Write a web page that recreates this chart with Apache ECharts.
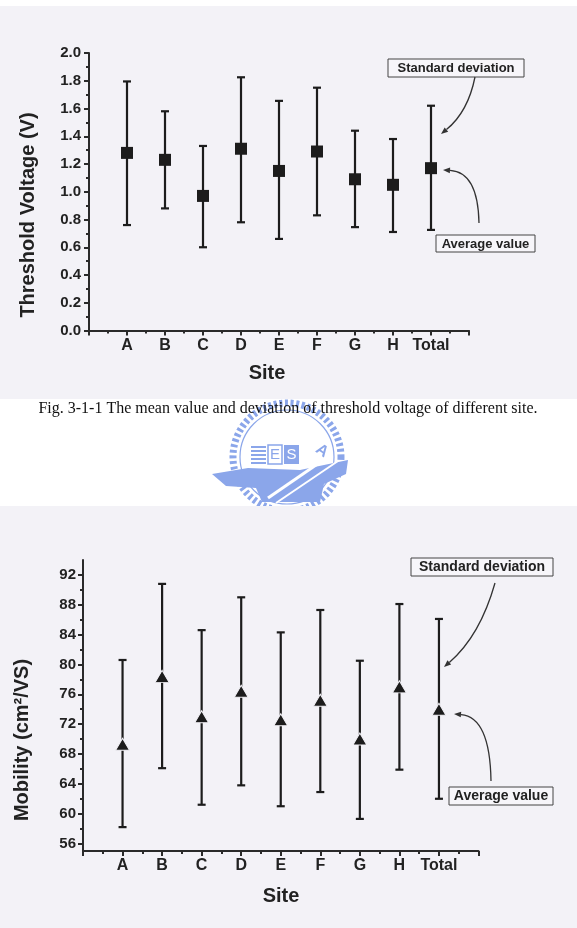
<!DOCTYPE html>
<html>
<head>
<meta charset="utf-8">
<script src="https://cdn.jsdelivr.net/npm/echarts@6/dist/echarts.min.js"></script>
<style>
html, body { margin: 0; padding: 0; background: #fff; }
#main { width: 577px; height: 928px; }
</style>
</head>
<body>
<div id="main"></div>
<script>
// categories
var sites = ['A', 'B', 'C', 'D', 'E', 'F', 'G', 'H', 'Total'];

// threshold voltage (V): mean, lower and upper end of the deviation bar
var vthMean = [1.28, 1.23, 0.97, 1.31, 1.15, 1.29, 1.09, 1.05, 1.17];
var vthLow  = [0.76, 0.88, 0.60, 0.78, 0.66, 0.83, 0.745, 0.71, 0.725];
var vthHigh = [1.795, 1.58, 1.33, 1.825, 1.655, 1.75, 1.44, 1.38, 1.62];

// mobility (cm2/VS)
var mobMean = [69.3, 78.4, 73.0, 76.4, 72.6, 75.2, 70.0, 77.0, 74.0];
var mobLow  = [58.2, 66.1, 61.2, 63.8, 61.0, 62.9, 59.3, 65.9, 62.0];
var mobHigh = [80.6, 90.8, 84.6, 89.0, 84.3, 87.3, 80.5, 88.1, 86.1];

// tick labels
var mobTicks = [56, 60, 64, 68, 72, 76, 80, 84, 88, 92];
var mobMinorTicks = [58, 62, 66, 70, 74, 78, 82, 86, 90];

var bg = '#f3f2f7';
var ink = '#1c1c1c';
var fam = '"Liberation Sans", Arial, sans-serif';

function errorBars(params, api) {
    var x = api.value(0);
    var top = api.coord([x, api.value(2)]);
    var bot = api.coord([x, api.value(1)]);
    var w = 4;
    var st = { stroke: ink, lineWidth: 2.2 };
    return {
        type: 'group',
        children: [
            { type: 'line', shape: { x1: top[0], y1: top[1], x2: bot[0], y2: bot[1] }, style: st },
            { type: 'line', shape: { x1: top[0] - w, y1: top[1], x2: top[0] + w, y2: top[1] }, style: st },
            { type: 'line', shape: { x1: bot[0] - w, y1: bot[1], x2: bot[0] + w, y2: bot[1] }, style: st }
        ]
    };
}

function xAxisOf(grid) {
    return {
        type: 'value', gridIndex: grid, min: 0, max: 10, interval: 1,
        axisLine: { lineStyle: { color: '#2a2a2a', width: 2 } },
        axisTick: { length: 5, lineStyle: { color: '#2a2a2a', width: 2 } },
        minorTick: { show: true, splitNumber: 2, length: 3, lineStyle: { color: '#2a2a2a', width: 2 } },
        axisLabel: {
            margin: 7, fontSize: 16, fontWeight: 'bold', fontFamily: fam, color: '#222',
            formatter: function (v) { return sites[v - 1] || ''; }
        },
        splitLine: { show: false }
    };
}

// annotation helpers (boxes + curved arrows)
function box(x, y, w, h, txt, fs) {
    return [
        { type: 'rect', z: 100, shape: { x: x, y: y, width: w, height: h },
          style: { fill: '#f7f6fa', stroke: '#444', lineWidth: 1 } },
        { type: 'text', z: 101, x: x + w / 2, y: y + h / 2 + 0.5,
          style: { text: txt, align: 'center', verticalAlign: 'middle',
                   font: 'bold ' + fs + 'px ' + fam, fill: '#222' } }
    ];
}
function arrow(x1, y1, cx, cy, x2, y2) {
    var a = Math.atan2(y2 - cy, x2 - cx);
    var L = 7, W = 2.8;
    var bx = x2 - L * Math.cos(a), by = y2 - L * Math.sin(a);
    var px = -Math.sin(a) * W, py = Math.cos(a) * W;
    return [
        { type: 'bezierCurve', z: 100,
          shape: { x1: x1, y1: y1, x2: bx, y2: by, cpx1: cx, cpy1: cy },
          style: { stroke: '#333', lineWidth: 1.3, fill: 'none' } },
        { type: 'polygon', z: 100,
          shape: { points: [[x2, y2], [bx + px, by + py], [bx - px, by - py]] },
          style: { fill: '#333' } }
    ];
}

// faint watermark logo between the two figures
var lc = [287, 457];
var logoCol = '#8ba6ea';
var logo = [
    { type: 'circle', z: -9, shape: { cx: lc[0], cy: lc[1], r: 54 },
      style: { fill: 'none', stroke: logoCol, lineWidth: 7, lineDash: [3, 2.6] } },
    { type: 'circle', z: -9, shape: { cx: lc[0], cy: lc[1], r: 47 },
      style: { fill: 'none', stroke: logoCol, lineWidth: 1.2 } },
    { type: 'polygon', z: -9,
      shape: { points: [[212, 474], [248, 468], [300, 470], [348, 460], [346, 474], [324, 484], [320, 502], [262, 502], [256, 488], [226, 486]] },
      style: { fill: logoCol } },
    { type: 'rect', z: -9, shape: { x: 251, y: 446, width: 15, height: 2 }, style: { fill: logoCol } },
    { type: 'rect', z: -9, shape: { x: 251, y: 450, width: 15, height: 2 }, style: { fill: logoCol } },
    { type: 'rect', z: -9, shape: { x: 251, y: 454, width: 15, height: 2 }, style: { fill: logoCol } },
    { type: 'rect', z: -9, shape: { x: 251, y: 458, width: 15, height: 2 }, style: { fill: logoCol } },
    { type: 'rect', z: -9, shape: { x: 251, y: 462, width: 15, height: 2 }, style: { fill: logoCol } },
    { type: 'rect', z: -9, shape: { x: 268, y: 445, width: 14, height: 19 },
      style: { fill: 'none', stroke: logoCol, lineWidth: 1.5 } },
    { type: 'text', z: -9, x: 275, y: 455,
      style: { text: 'E', align: 'center', verticalAlign: 'middle', font: '15px ' + fam, fill: logoCol } },
    { type: 'rect', z: -9, shape: { x: 284, y: 445, width: 15, height: 19 }, style: { fill: logoCol } },
    { type: 'text', z: -9, x: 291.5, y: 455,
      style: { text: 'S', align: 'center', verticalAlign: 'middle', font: '15px ' + fam, fill: '#fff' } },
    { type: 'text', z: -9, x: 322, y: 451, rotation: -0.6,
      style: { text: 'A', align: 'center', verticalAlign: 'middle', font: 'bold 16px ' + fam, fill: logoCol } },
    { type: 'line', z: -8, shape: { x1: 268, y1: 498, x2: 332, y2: 454 },
      style: { stroke: '#ffffff', lineWidth: 3 } },
    { type: 'line', z: -8, shape: { x1: 276, y1: 503, x2: 338, y2: 461 },
      style: { stroke: '#ffffff', lineWidth: 2 } }
];

var graphics = [
    { type: 'rect', z: -10, shape: { x: 0, y: 6, width: 577, height: 393 }, style: { fill: bg } },
    { type: 'rect', z: -7, shape: { x: 0, y: 506, width: 577, height: 422 }, style: { fill: bg } },
    { type: 'text', z: 10, x: 28, y: 215, rotation: Math.PI / 2,
      style: { text: 'Threshold Voltage (V)', align: 'center', verticalAlign: 'middle',
               font: 'bold 20px ' + fam, fill: '#222' } },
    { type: 'text', z: 10, x: 267, y: 373,
      style: { text: 'Site', align: 'center', verticalAlign: 'middle',
               font: 'bold 20px ' + fam, fill: '#222' } },
    { type: 'text', z: 10, x: 288, y: 409,
      style: { text: 'Fig. 3-1-1 The mean value and deviation of threshold voltage of different site.',
               align: 'center', verticalAlign: 'middle',
               font: '16px "Liberation Serif", "Times New Roman", serif', fill: '#111' } },
    { type: 'text', z: 10, x: 22, y: 740, rotation: Math.PI / 2,
      style: { text: 'Mobility (cm\u00b2/VS)', align: 'center', verticalAlign: 'middle',
               font: 'bold 20px ' + fam, fill: '#222' } },
    { type: 'text', z: 10, x: 281, y: 896,
      style: { text: 'Site', align: 'center', verticalAlign: 'middle',
               font: 'bold 20px ' + fam, fill: '#222' } }
].concat(logo)
 .concat(box(388, 59, 136, 18, 'Standard deviation', 13))
 .concat(box(436, 235, 99, 17, 'Average value', 13))
 .concat(arrow(475, 77, 468, 112, 441, 134))
 .concat(arrow(479, 223, 478, 172, 443, 170))
 .concat(box(411, 558, 142, 18, 'Standard deviation', 14))
 .concat(box(449, 787, 104, 18, 'Average value', 14))
 .concat(arrow(495, 583, 480, 636, 444, 667))
 .concat(arrow(491, 781, 490, 717, 454, 714));

var option = {
    animation: false,
    backgroundColor: '#ffffff',
    grid: [
        { left: 89, top: 53, width: 380, height: 277.5 },
        { left: 83, top: 560, width: 395.5, height: 291 }
    ],
    xAxis: [xAxisOf(0), xAxisOf(1)],
    yAxis: [
        {
            type: 'value', gridIndex: 0, min: 0, max: 2, interval: 0.2,
            axisLine: { show: true, lineStyle: { color: '#2a2a2a', width: 2 } },
            axisTick: { show: true, length: 5, lineStyle: { color: '#2a2a2a', width: 2 } },
            minorTick: { show: true, splitNumber: 2, length: 3, lineStyle: { color: '#2a2a2a', width: 2 } },
            axisLabel: { margin: 8, fontSize: 15, fontWeight: 'bold', fontFamily: fam, color: '#222',
                         formatter: function (v) { return v.toFixed(1); } },
            splitLine: { show: false }
        },
        {
            type: 'value', gridIndex: 1, min: 55, max: 94,
            axisLine: { show: true, lineStyle: { color: '#2a2a2a', width: 2 } },
            axisTick: { show: true, length: 5, customValues: mobTicks, lineStyle: { color: '#2a2a2a', width: 2 } },
            axisLabel: { margin: 7, fontSize: 15, fontWeight: 'bold', fontFamily: fam, color: '#222',
                         customValues: mobTicks },
            splitLine: { show: false }
        },
        {
            // minor ticks of the mobility axis
            type: 'value', gridIndex: 1, min: 55, max: 94, position: 'left',
            axisLine: { show: false },
            axisTick: { show: true, length: 3, customValues: mobMinorTicks, lineStyle: { color: '#2a2a2a', width: 2 } },
            axisLabel: { show: false },
            splitLine: { show: false }
        }
    ],
    series: [
        {
            type: 'custom', xAxisIndex: 0, yAxisIndex: 0,
            renderItem: errorBars,
            data: sites.map(function (s, i) { return [i + 1, vthLow[i], vthHigh[i]]; })
        },
        {
            type: 'scatter', xAxisIndex: 0, yAxisIndex: 0,
            symbol: 'rect', symbolSize: 12,
            itemStyle: { color: ink, opacity: 1 },
            data: sites.map(function (s, i) { return [i + 1, vthMean[i]]; })
        },
        {
            type: 'custom', xAxisIndex: 1, yAxisIndex: 1,
            renderItem: errorBars,
            data: sites.map(function (s, i) { return [i + 1, mobLow[i], mobHigh[i]]; })
        },
        {
            type: 'scatter', xAxisIndex: 1, yAxisIndex: 1,
            symbol: 'triangle', symbolSize: [14, 12],
            itemStyle: { color: ink, opacity: 1, borderColor: bg, borderWidth: 1 },
            data: sites.map(function (s, i) { return [i + 1, mobMean[i]]; })
        }
    ],
    graphic: graphics
};

var chart = echarts.init(document.getElementById('main'));
chart.setOption(option);
</script>
</body>
</html>
